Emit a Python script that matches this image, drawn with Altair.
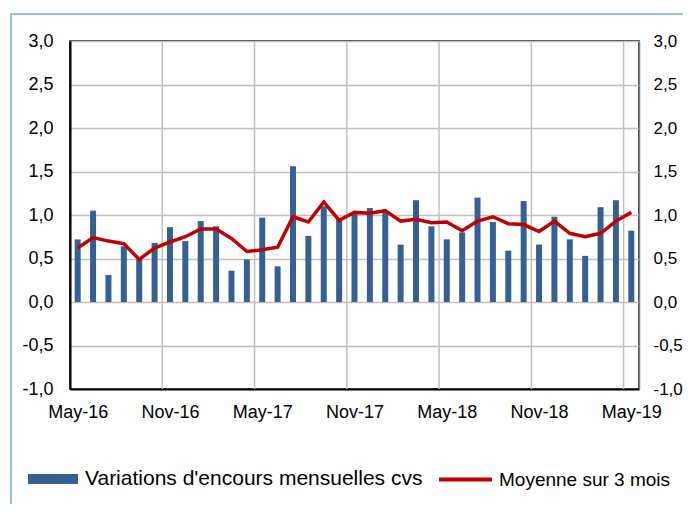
import altair as alt
import pandas as pd

months = ["May-16","Jun-16","Jul-16","Aug-16","Sep-16","Oct-16","Nov-16","Dec-16",
          "Jan-17","Feb-17","Mar-17","Apr-17","May-17","Jun-17","Jul-17","Aug-17",
          "Sep-17","Oct-17","Nov-17","Dec-17","Jan-18","Feb-18","Mar-18","Apr-18",
          "May-18","Jun-18","Jul-18","Aug-18","Sep-18","Oct-18","Nov-18","Dec-18",
          "Jan-19","Feb-19","Mar-19","Apr-19","May-19"]
bars = [0.72,1.05,0.31,0.64,0.49,0.68,0.86,0.70,0.93,0.87,0.36,0.49,0.97,0.41,1.56,0.76,
        1.10,0.95,1.02,1.08,1.03,0.66,1.17,0.87,0.72,0.80,1.20,0.92,0.59,1.16,0.66,0.98,
        0.72,0.53,1.09,1.17,0.82]
avg3 = [0.62,0.74,0.70,0.67,0.49,0.62,0.69,0.75,0.84,0.84,0.73,0.58,0.60,0.63,0.98,0.92,
        1.15,0.94,1.03,1.02,1.05,0.93,0.95,0.91,0.92,0.82,0.93,0.98,0.90,0.89,0.81,0.93,
        0.79,0.75,0.79,0.93,1.03]
s_bar = "Variations d'encours mensuelles cvs"
s_line = "Moyenne sur 3 mois"
y_ticks = [-1.0,-0.5,0.0,0.5,1.0,1.5,2.0,2.5,3.0]

n = len(months)
df = pd.DataFrame({"idx": list(range(n)), "month": months, "bar": bars, "avg": avg3,
                   "sb": [s_bar]*n, "sl": [s_line]*n})
grid_df = pd.DataFrame({"g": [k - 0.5 for k in range(6, n, 6)]})
label_vals = list(range(0, n, 6))
label_arr = "[" + ",".join("'" + months[v] + "'" for v in label_vals) + "]"

FONT = "Liberation Sans"
xscale = alt.Scale(domain=[-0.5, n - 0.5], nice=False, zero=False, padding=0)
yscale = alt.Scale(domain=[-1, 3], nice=False)
ylab = "(datum.value < 0 ? '-' : '') + replace(format(abs(datum.value), '.1f'), '.', ',')"

x_axis = alt.Axis(values=label_vals, labelExpr=label_arr + "[datum.value/6]", grid=False,
                  ticks=False, tickSize=0, labelPadding=14, labelFontSize=18, labelFont=FONT,
                  labelColor="black", domainColor="black", domainWidth=2, title=None,
                  labelFlush=False)

border = alt.Chart(pd.DataFrame({"a": [0]})).mark_rect(
    filled=False, stroke="#7BA7E0", strokeWidth=1.5, clip=False
).encode(x=alt.value(-59), x2=alt.value(700), y=alt.value(-27), y2=alt.value(520))

vgrid = alt.Chart(grid_df).mark_rule(color="#C0C0C0", strokeWidth=1.5).encode(
    x=alt.X("g:Q", scale=xscale, axis=x_axis)
)

bar = alt.Chart(df).mark_bar(size=6).encode(
    x=alt.X("idx:Q", scale=xscale, axis=x_axis),
    y=alt.Y("bar:Q", scale=yscale, axis=alt.Axis(
        values=y_ticks, labelExpr=ylab, orient="left", grid=True, gridColor="#C0C0C0",
        gridWidth=1.5, ticks=False, tickSize=0, labelPadding=17, labelFontSize=18,
        labelFont=FONT, labelColor="black", domainColor="black", domainWidth=2, title=None)),
    fill=alt.Fill("sb:N", scale=alt.Scale(domain=[s_bar], range=["#376092"]),
                  legend=alt.Legend(orient="none", legendX=-42, legendY=413, title=None,
                                    symbolType="M-1,-0.2L1,-0.2L1,0.2L-1,0.2Z",
                                    symbolSize=2500, symbolStrokeWidth=0, labelOffset=7,
                                    labelFontSize=21, labelFont=FONT, labelColor="black",
                                    padding=0, labelLimit=600)),
)

line = alt.Chart(df).mark_line(strokeWidth=3.5).encode(
    x=alt.X("idx:Q", scale=xscale, axis=x_axis),
    y=alt.Y("avg:Q", scale=yscale, axis=alt.Axis(
        values=y_ticks, labelExpr=ylab, orient="right", grid=False, ticks=False, tickSize=0,
        labelPadding=14, labelFontSize=17, labelFont=FONT, labelColor="black",
        domainColor="#808080", domainWidth=1.5, title=None)),
    stroke=alt.Stroke("sl:N", scale=alt.Scale(domain=[s_line], range=["#C00000"]),
                      legend=alt.Legend(orient="none", legendX=367, legendY=410, title=None,
                                        symbolType="stroke", symbolSize=2809,
                                        symbolStrokeWidth=4, labelOffset=5,
                                        labelFontSize=19, labelFont=FONT, labelColor="black",
                                        padding=0, labelLimit=600)),
)

chart = alt.layer(border, vgrid, bar, line).resolve_scale(y="independent").properties(
    width=569, height=348,
    autosize=alt.AutoSizeParams(type="none"),
    padding={"left": 62, "top": 33, "right": 44, "bottom": 115},
    background="white",
).configure_view(stroke="black", strokeWidth=1.5)

chart.save("out.html", embed_options={"renderer": "svg", "actions": False})
